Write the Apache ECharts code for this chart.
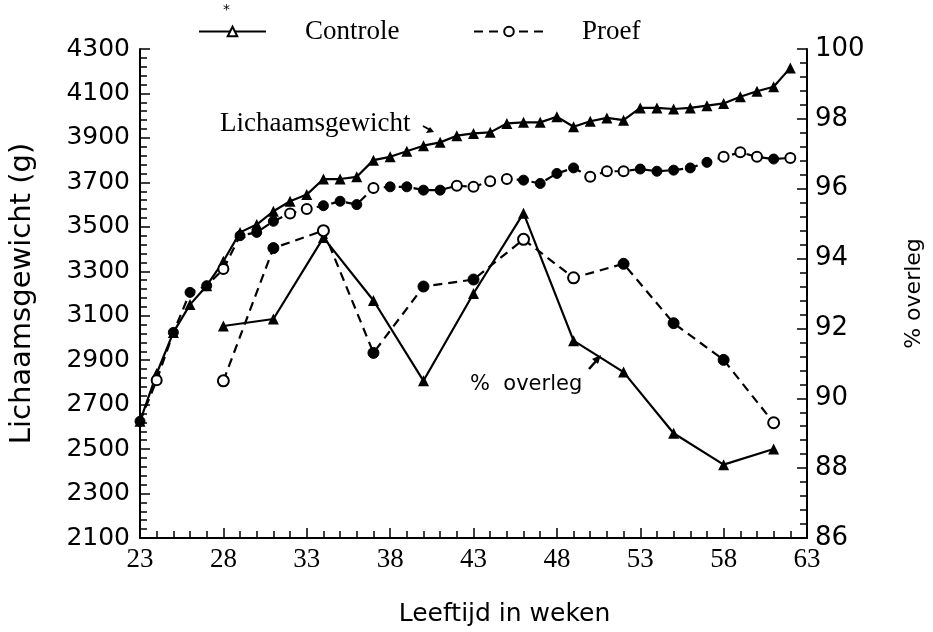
<!DOCTYPE html>
<html>
<head>
<meta charset="UTF-8" />
<title>Lichaamsgewicht en % overleg</title>
<script src="https://cdn.jsdelivr.net/npm/echarts@6/dist/echarts.min.js"></script>
<style>
  html, body { margin: 0; padding: 0; background: #fff; }
  #main { width: 933px; height: 632px; }
</style>
</head>
<body>
<div id="main"></div>
<script>
// weekly body weight (g), weeks 23..62
var weightWeeks = [23,24,25,26,27,28,29,30,31,32,33,34,35,36,37,38,39,40,41,42,
                   43,44,45,46,47,48,49,50,51,52,53,54,55,56,57,58,59,60,61,62];
var controlWeight = [2625,2840,3025,3150,3235,3345,3475,3510,3570,3615,3645,3715,3715,3725,3800,3815,3840,3865,3880,3910,
                     3920,3925,3965,3970,3970,3995,3950,3975,3990,3980,4035,4035,4030,4035,4045,4055,4085,4110,4130,4215];
var proefWeight   = [2625,2810,3025,3205,3235,3310,3460,3475,3525,3560,3580,3595,3615,3600,3675,3680,3680,3665,3665,3685,
                     3680,3705,3715,3710,3695,3740,3765,3725,3750,3750,3760,3750,3755,3765,3790,3815,3835,3815,3805,3810];
// 1 = open circle, 0 = filled circle
var proefWeightOpen = [0,1,0,0,0,1,0,0,0,1,1,0,0,0,1,0,0,0,0,1,
                       1,1,1,0,0,0,0,1,1,1,0,0,0,0,0,1,1,1,0,1];

// % overleg, every third week
var overlegWeeks = [28,31,34,37,40,43,46,49,52,55,58,61];
var controlOverleg = [92.07,92.27,94.6,92.8,90.5,93.0,95.3,91.65,90.75,89.0,88.1,88.55];
var proefOverleg   = [90.5,94.3,94.8,91.3,93.2,93.4,94.55,93.45,93.85,92.15,91.1,89.3];
var proefOverlegOpen = [1,0,1,0,0,0,1,1,0,0,0,1];

var xTicks = [23,28,33,38,43,48,53,58,63];

function pairs(xs, ys) {
  return xs.map(function (x, i) { return [x, ys[i]]; });
}
function circles(xs, ys, open) {
  return xs.map(function (x, i) {
    return {
      value: [x, ys[i]],
      itemStyle: open[i] ? { color: '#fff', borderColor: '#000', borderWidth: 2 }
                         : { color: '#000', borderColor: '#000', borderWidth: 1 }
    };
  });
}

var chart = echarts.init(document.getElementById('main'));

var sans = 'DejaVu Sans';
var serif = 'Liberation Serif';

var option = {
  backgroundColor: '#fff',
  animation: false,
  grid: { left: 138, right: 125, top: 49, bottom: 92 },
  legend: [
    {
      data: [{ name: 'Controle', itemStyle: { color: '#fff', borderColor: '#000', borderWidth: 2 } }],
      left: 193, top: 13, itemWidth: 67, itemHeight: 12,
      selectedMode: false,
      textStyle: { fontFamily: serif, fontSize: 27, color: '#000', padding: [0, 0, 0, 34] }
    },
    {
      data: ['Proef'],
      left: 468, top: 13, itemWidth: 70, itemHeight: 12,
      selectedMode: false,
      textStyle: { fontFamily: serif, fontSize: 27, color: '#000', padding: [0, 0, 0, 33] }
    }
  ],
  xAxis: {
    type: 'value',
    min: 23, max: 63, interval: 5,
    name: 'Leeftijd in weken',
    nameLocation: 'middle',
    nameGap: 64,
    nameTextStyle: { fontFamily: sans, fontSize: 25, color: '#000', padding: [0, 0, 0, 62] },
    axisLine: { lineStyle: { color: '#000', width: 2 } },
    axisTick: { inside: true, length: 10, lineStyle: { color: '#000', width: 1.5 } },
    minorTick: { show: true, splitNumber: 5, length: 7, lineStyle: { color: '#000', width: 1.5 } },
    splitLine: { show: false },
    axisLabel: {
      fontFamily: serif, fontSize: 27, color: '#000', margin: 8,
      showMinLabel: true, showMaxLabel: true,
      customValues: xTicks
    }
  },
  yAxis: [
    {
      type: 'value',
      min: 2100, max: 4300, interval: 200,
      name: 'Lichaamsgewicht (g)',
      nameLocation: 'middle',
      nameRotate: 90,
      nameGap: 103,
      nameTextStyle: { fontFamily: sans, fontSize: 29, color: '#000' },
      axisLine: { show: true, lineStyle: { color: '#000', width: 2 } },
      axisTick: { inside: true, length: 10, lineStyle: { color: '#000', width: 1.5 } },
      minorTick: { show: true, splitNumber: 5, length: 7, lineStyle: { color: '#000', width: 1.5 } },
      splitLine: { show: false },
      axisLabel: {
        fontFamily: sans, fontSize: 25, color: '#000', margin: 10,
        formatter: function (v) { return String(v); }
      }
    },
    {
      type: 'value',
      position: 'right',
      min: 86, max: 100, interval: 2,
      name: '% overleg',
      nameLocation: 'middle',
      nameRotate: 90,
      nameGap: 96,
      nameTextStyle: { fontFamily: sans, fontSize: 22, color: '#000' },
      axisLine: { show: true, lineStyle: { color: '#000', width: 2 } },
      axisTick: { inside: true, length: 10, lineStyle: { color: '#000', width: 1.5 } },
      minorTick: { show: true, splitNumber: 5, length: 7, lineStyle: { color: '#000', width: 1.5 } },
      splitLine: { show: false },
      axisLabel: { fontFamily: sans, fontSize: 26, color: '#000', margin: 8 }
    }
  ],
  series: [
    {
      name: 'Controle',
      type: 'line',
      yAxisIndex: 0,
      data: pairs(weightWeeks, controlWeight),
      symbol: 'triangle', symbolSize: 11,
      itemStyle: { color: '#000' },
      lineStyle: { color: '#000', width: 2.2 }
    },
    {
      name: 'Proef',
      type: 'line',
      yAxisIndex: 0,
      data: circles(weightWeeks, proefWeight, proefWeightOpen),
      symbol: 'circle', symbolSize: 10,
      itemStyle: { color: '#fff', borderColor: '#000', borderWidth: 2 },
      lineStyle: { color: '#000', width: 2.2, type: [9, 6] }
    },
    {
      name: 'Controle overleg',
      type: 'line',
      yAxisIndex: 1,
      data: pairs(overlegWeeks, controlOverleg),
      symbol: 'triangle', symbolSize: 11,
      itemStyle: { color: '#000' },
      lineStyle: { color: '#000', width: 2.2 }
    },
    {
      name: 'Proef overleg',
      type: 'line',
      yAxisIndex: 1,
      data: circles(overlegWeeks, proefOverleg, proefOverlegOpen),
      symbol: 'circle', symbolSize: 11,
      itemStyle: { color: '#fff', borderColor: '#000', borderWidth: 2 },
      lineStyle: { color: '#000', width: 2.2, type: [9, 6] }
    }
  ],
  graphic: [
    { type: 'text', left: 223, top: 3, style: { text: '*', font: '14px ' + sans, fill: '#000' } },
    { type: 'text', left: 220, top: 110, style: { text: 'Lichaamsgewicht', font: '27px "Liberation Serif"', fill: '#000' } },
    { type: 'line', shape: { x1: 423, y1: 126, x2: 432, y2: 131 }, style: { stroke: '#000', lineWidth: 2 } },
    { type: 'polygon', shape: { points: [[434, 132], [426, 133], [430, 127]] }, style: { fill: '#000' } },
    { type: 'text', left: 470, top: 374, style: { text: '%  overleg', font: '21px "DejaVu Sans"', fill: '#000' } },
    { type: 'line', shape: { x1: 589, y1: 369, x2: 597, y2: 360 }, style: { stroke: '#000', lineWidth: 2.5 } },
    { type: 'polygon', shape: { points: [[601, 355], [592, 359], [598, 364]] }, style: { fill: '#000' } }
  ]
};

chart.setOption(option);
</script>
</body>
</html>
